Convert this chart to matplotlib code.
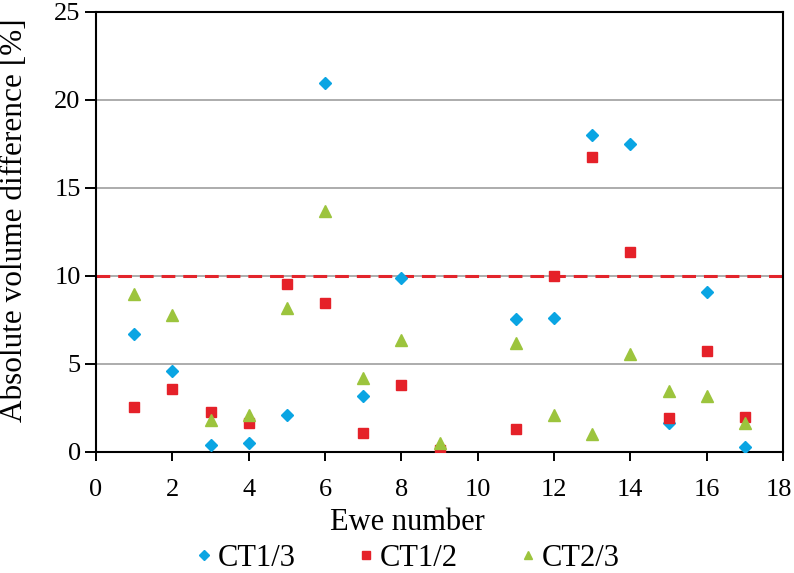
import matplotlib.pyplot as plt
import matplotlib.transforms as mtransforms
import numpy as np

plt.rcParams['font.family'] = ['Liberation Serif', 'DejaVu Serif']

# Ewe numbers and absolute volume differences (%) per comparison
ewe_ct13 = [1, 2, 3, 4, 5, 6, 7, 8, 11, 12, 13, 14, 15, 16, 17]
ct13 = [6.70, 4.60, 0.38, 0.53, 2.12, 20.97, 3.20, 9.89, 7.54, 7.63, 17.99, 17.52, 1.67, 9.11, 0.30]

ewe_ct12 = [1, 2, 3, 4, 5, 6, 7, 8, 9, 11, 12, 13, 14, 15, 16, 17]
ct12 = [2.58, 3.56, 2.27, 1.63, 9.55, 8.45, 1.06, 3.79, 0.13, 1.31, 9.98, 16.76, 11.38, 1.91, 5.76, 1.97]

ewe_ct23 = [1, 2, 3, 4, 5, 6, 7, 8, 9, 11, 12, 13, 14, 15, 16, 17]
ct23 = [8.98, 7.80, 1.82, 2.10, 8.20, 13.69, 4.22, 6.36, 0.53, 6.19, 2.10, 1.02, 5.55, 3.45, 3.18, 1.63]

threshold = 10

fig = plt.figure(figsize=(7.94, 5.73), dpi=100)
# axes box: x 96..783 px, y 12..452 px
ax = fig.add_axes([96 / 794, 1 - 452 / 573, 687 / 794, 440 / 573])

# horizontal grid only
for yv in [5, 10, 15, 20]:
    ax.axhline(yv, color="#a6a6a6", linewidth=1.3, zorder=0)
ax.axhline(threshold, color="#e3242b", linewidth=2.2, linestyle=(0, (4.5, 2.6)), zorder=1)

ax.plot(ewe_ct13, ct13, linestyle="none", marker="D", ms=6.5, color="#0aa5e3", label="CT1/3", zorder=3)
ax.plot(ewe_ct12, ct12, linestyle="none", marker="s", ms=6.8, color="#e52129", label="CT1/2", zorder=3)
ax.plot(ewe_ct23, ct23, linestyle="none", marker="^", ms=8, color="#9cc43d", label="CT2/3", zorder=3)

ax.set_xlim(0, 18)
ax.set_ylim(0, 25)
ax.set_xticks(np.arange(0, 19, 2))
ax.set_yticks(np.arange(0, 26, 5))
ax.tick_params(axis="both", direction="out", labelsize=19, width=1.4, colors="black")
ax.tick_params(axis="x", length=6.5, pad=13)
ax.tick_params(axis="y", length=8, pad=3)
for s in ax.spines.values():
    s.set_linewidth(1.5)

# nudge the last x tick label so it stays inside the figure
last = ax.get_xticklabels()[-1]
last.set_transform(last.get_transform() + mtransforms.ScaledTranslation(-4 / 100, 0, fig.dpi_scale_trans))

ax.set_xlabel("Ewe number", fontsize=22)
ax.xaxis.set_label_coords(0.4527, -0.161)
ax.xaxis.label.set_va("center")
ax.set_ylabel("Absolute volume difference [%]", fontsize=22.5)
ax.yaxis.set_label_coords(-0.118, 0.527)
ax.yaxis.label.set_va("center")

fig.legend(loc="center", bbox_to_anchor=(407 / 794, 1 - 558 / 573), ncol=3, frameon=False,
           fontsize=22, handletextpad=0.15, columnspacing=2.0, markerscale=0.75,
           handlelength=0.6, borderaxespad=0, borderpad=0)

fig.savefig("out.png", dpi=100)
